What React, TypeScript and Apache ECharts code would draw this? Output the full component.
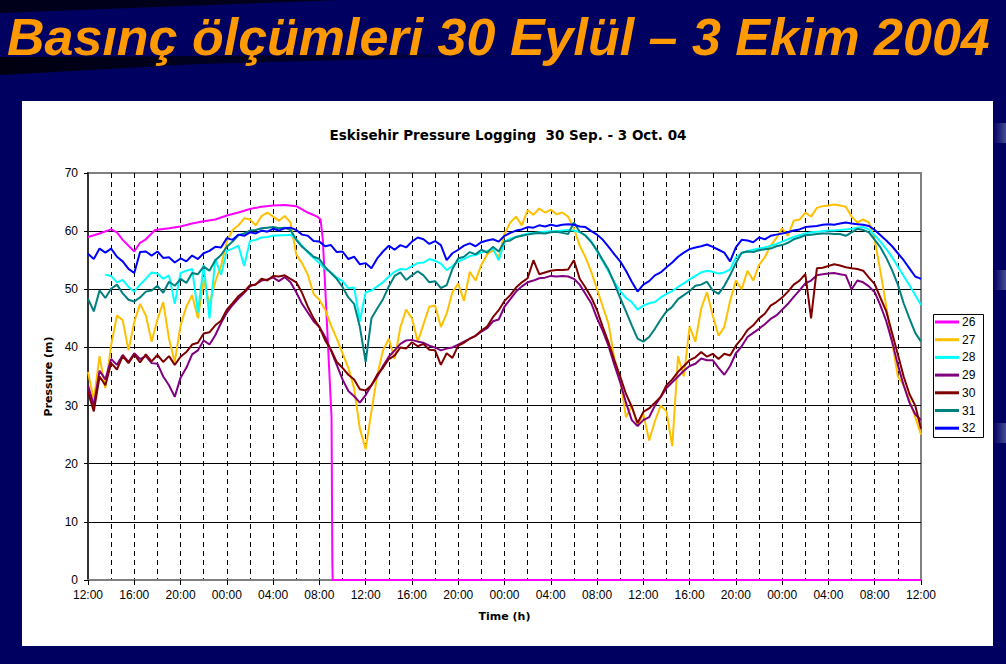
import React, { useEffect, useRef } from "react";
import * as echarts from "echarts";

// ---------- data ----------
const slideTitle = "Basınç ölçümleri 30 Eylül – 3 Ekim 2004";
const chartTitle = "Eskisehir Pressure Logging  30 Sep. - 3 Oct. 04";
const xAxisName = "Time (h)";
const yAxisName = "Pressure (m)";

// hours since 30 Sep 12:00, half-hour sampling
const sampleHours: number[] = Array.from({ length: 145 }, (_, i) => i * 0.5);

const xTickLabels = [
  "12:00", "16:00", "20:00", "00:00", "04:00", "08:00",
  "12:00", "16:00", "20:00", "00:00", "04:00", "08:00",
  "12:00", "16:00", "20:00", "00:00", "04:00", "08:00", "12:00",
];

const seriesNames = ["26", "27", "28", "29", "30", "31", "32"];
const seriesColors = ["#FF00FF", "#FFC000", "#00FFFF", "#800080", "#800000", "#008080", "#0000FF"];

// logger 26 (own time stamps: it fails shortly after 08:00 on 1 Oct)
const s26Hours = [0, 1, 2, 2.5, 3, 4, 4.5, 5, 5.8, 7, 8, 9, 10, 11, 12, 13, 14, 15, 16, 17, 18, 19, 19.8, 20.1, 20.3, 21.05, 21.12, 21.15, 72];
const s26Values = [59, 59.6, 60.3, 59.8, 58.5, 56.5, 58, 58.6, 60.2, 60.5, 60.8, 61.3, 61.7, 62, 62.7, 63.2, 63.8, 64.2, 64.4, 64.5, 64.3, 63.2, 62.5, 62, 58.5, 28, 3, 0, 0];

const s27 = [
  35.8, 31, 38.5, 33, 40.4, 45.5, 44.7, 39.5, 44.4, 47.5,
  45.5, 41, 44.8, 47.8, 41.5, 37.5, 43.8, 47, 49, 45,
  51.6, 47.5, 51.3, 54, 58.2, 60.2, 61, 62.2, 62, 61,
  62.6, 63.2, 62.5, 61.8, 62.6, 61.5, 56, 54.5, 52.5, 49.2,
  48.2, 46.5, 43.8, 41.5, 39, 36.5, 33, 26, 22.5, 29,
  35.2, 39.5, 41.5, 38, 43.5, 46.5, 45, 41, 44, 47,
  47.2, 43.5, 45.8, 49.5, 51, 48, 53, 51.5, 54.2, 56,
  56.8, 55.5, 59.5, 61.5, 62.5, 61, 63.6, 62.8, 63.9, 63.2,
  63.7, 62.9, 63.2, 62.5, 60.5, 57.5, 55.5, 53, 50, 47,
  44, 38, 34.5, 28, 30, 26.5, 28.6, 24, 27.3, 30,
  29, 23, 38.5, 35, 43.6, 41, 46.7, 49.5, 45.5, 42,
  43.5, 48, 51.5, 50, 53.2, 51.5, 54.2, 55.5, 57.5, 58.8,
  60.5, 59.2, 61.8, 62, 63.2, 62.5, 64, 64.3, 64.4, 64.6,
  64.4, 64.2, 62.5, 61.5, 62, 61.5, 58.5, 53, 47, 41,
  35, 33.5, 31, 28, 25,
];

const s28 = [
  null, null, null, 52.5, 52.3, 51.2, 51.6, 50.4, 49.6, 50.8,
  51.8, 52.9, 52.7, 51.8, 52.4, 47.5, 52.8, 53.2, 53.5, 46,
  54.2, 45, 55.2, 52.5, 56.6, 57, 57.5, 54, 58.3, 58.5,
  58.9, 59, 59.2, 59.3, 59.3, 59.4, 58.6, 57.5, 56.3, 55.4,
  54.5, 53.5, 52.9, 52, 51.4, 50.2, 50.3, 44.5, 49.5, 49.8,
  50.5, 51.2, 52.2, 53, 53.5, 53.4, 54, 54.5, 54.6, 55.2,
  54.9, 54.4, 53.3, 54, 54.8, 55.2, 55.7, 55.9, 56.3, 56.6,
  57, 55, 58.2, 58.7, 59, 59.3, 59.6, 59.7, 59.8, 59.9,
  60, 60, 60.1, 60.2, 60.1, 59.8, 59.3, 58.2, 56.5, 54.8,
  53, 51.2, 49.7, 48.5, 47.8, 46.5, 47.2, 47.6, 47.8, 48.6,
  49.2, 49.7, 50.4, 51, 51.7, 52.3, 52.9, 53.2, 53, 52.7,
  52.9, 53.4, 55.5, 56.2, 56.6, 56.8, 57, 57.2, 57.5, 57.8,
  58.2, 58.6, 59, 59.3, 59.6, 59.8, 59.9, 60, 60.1, 60.1,
  60.2, 60.3, 60.4, 60.6, 60.7, 60.3, 59.3, 58.2, 56.9, 55.5,
  53.9, 52.3, 50.7, 49, 47.3,
];

const s29 = [
  33.5, 30, 36, 34.5, 38, 37, 38.7, 37.5, 39, 38,
  38.5, 37.3, 37.2, 35, 33.5, 31.5, 34.8, 36.5, 38.8, 39.5,
  41.2, 40.5, 42.1, 44.2, 46, 47.3, 48.4, 49.4, 50.5, 50.9,
  51.5, 51.7, 52, 51.4, 52.1, 51.2, 49.5, 47.5, 46, 44.5,
  43.5, 41.8, 39.5, 37, 34.5, 32.5, 31.6, 30.5, 31.8, 33.5,
  35, 36.8, 38.4, 39.5, 40.6, 41.2, 41.3, 41, 40.8, 40.3,
  40, 39.5, 39.8, 40, 40.5, 41, 41.5, 42, 42.7, 43.3,
  44.5, 44.8, 47, 48.3, 49.6, 50.5, 51.2, 51.5, 51.9, 52,
  52.3, 52.2, 52.3, 52.2, 51.8, 50.8, 49.2, 47.6, 45, 42.8,
  40.2, 37, 34, 30.5, 27.5, 26.5, 27.5, 28, 30, 31.5,
  33, 34, 35, 36, 36.8, 37.2, 38.1, 37.8, 37.8, 36.5,
  35.3, 36.8, 39, 40.2, 41.8, 42.5, 43.2, 44, 44.9, 45.5,
  46.5, 47.5, 48.7, 49.8, 51, 51.5, 52.4, 52.6, 52.7, 52.8,
  52.6, 52.4, 50, 51.5, 51.2, 50.5, 49.5, 47.2, 44.5, 41,
  37, 33.5, 30.5, 28.5, 27.5,
];

const s30 = [
  32.4, 29, 35, 33.5, 37.3, 36.2, 38.5, 37.3, 38.8, 37.4,
  38.8, 37.6, 38.7, 37.5, 38.5, 37, 38.4, 39.2, 40.5, 40.8,
  42.4, 42.6, 43.8, 44.6, 46.5, 47.6, 48.8, 49.6, 50.7, 50.8,
  51.8, 51.5, 52.3, 52.2, 52.4, 51.8, 51.2, 49.4, 47, 45,
  43.5, 41.2, 39.6, 37.5, 36.5, 35.3, 34.5, 32.8, 32.6, 33.5,
  35.3, 36.5, 38, 38.6, 40, 39.8, 40.9, 40.2, 40.6, 39.6,
  39.5, 37, 39, 38.2, 40.3, 40.8, 41.5, 42, 42.9, 43.6,
  45.2, 46.4, 48, 49, 50.3, 51.2, 51.9, 55, 52.6, 52.9,
  53.2, 53.3, 53.3, 53.4, 55, 51.8, 50.3, 48.6, 46.4, 43.5,
  40.8, 37.8, 35, 32, 29.8, 27, 28.9, 29.5, 30.5, 31.5,
  33.5, 34.5, 35.8, 36.8, 37.8, 38.3, 39.2, 38.4, 38.9, 38,
  38.9, 38.6, 40.3, 41.5, 43, 43.8, 45, 45.8, 47.2, 47.8,
  48.6, 49.6, 50.8, 51.5, 52.6, 45, 53.6, 53.7, 54, 54.3,
  54.1, 53.8, 53.6, 53.5, 53.2, 52, 50.9, 48.5, 46.2, 42.5,
  38.8, 35, 32, 30, 26,
];

const s31 = [
  48.4, 46.2, 49.8, 48.5, 50.1, 50.8, 49.3, 48.2, 47.9, 48.6,
  49.6, 49.8, 50.6, 49.4, 51.3, 50.6, 51.8, 51.1, 52.8, 52.6,
  53.9, 53.2, 55, 55.9, 57.3, 58.2, 59.3, 59.6, 60.1, 60.2,
  60.5, 60.6, 60.7, 60.5, 60.6, 60.2, 58.5, 57.3, 56.5, 55.6,
  55.2, 53.8, 52.8, 51.8, 50.4, 48.6, 47.5, 43.5, 37.5, 45,
  46.7, 48.3, 50.5, 52.3, 52.9, 51.6, 52.4, 53.1, 52.4, 51.2,
  51.4, 50.2, 50.7, 53.5, 55.3, 55.6, 56.4, 56, 56.8, 56.3,
  57.3, 56.5, 58.2, 58.4, 59, 59.2, 59.4, 59.6, 59.7, 59.6,
  59.8, 59.9, 59.7, 59.5, 61.5, 59.9, 59.2, 58.1, 56.7, 55,
  53.3, 51, 48.5, 46.2, 43.8, 41.5, 41, 41.8, 43.2, 44.8,
  46.2, 47, 48.3, 49, 49.7, 50.6, 50.8, 51.3, 49.8, 49.2,
  50.6, 52.4, 54.5, 56.3, 56.5, 56.4, 56.7, 56.9, 57, 57.4,
  57.6, 58, 58.6, 58.9, 59.3, 59.4, 59.5, 59.6, 59.6, 59.5,
  59.5, 59.2, 59.8, 60.4, 60.2, 59.8, 58.5, 57.2, 55.4, 53.3,
  50.8, 47.6, 45, 42.5, 41,
];

const s32 = [
  56.1, 55.2, 57, 56.3, 57, 55.6, 54.8, 53.5, 52.8, 56.4,
  56.5, 55.8, 56.5, 55.4, 55.5, 54.6, 55.3, 54.8, 55.8, 55.2,
  56.2, 56.6, 57.3, 57.2, 58.8, 58.5, 59.4, 59.2, 59.8, 59.6,
  60.1, 59.9, 60.4, 60.1, 60.5, 60.6, 60.2, 59.4, 59.2, 58.3,
  58.2, 57.4, 57.6, 56.4, 56.5, 55.2, 55.6, 54.3, 54.5, 53.6,
  55.3, 56.5, 57.5, 56.8, 57.6, 57.2, 58.2, 58.9, 58.6, 57.8,
  58.3, 57.6, 55, 56.2, 56.8, 57.5, 57.9, 57.4, 58.1, 58.4,
  58.6, 58.2, 59.2, 59.7, 60.1, 60.3, 60.7, 60.6, 61, 60.8,
  61.1, 60.9, 61.1, 61.2, 61.1, 60.8, 60.7, 60, 59.4, 58.5,
  57.3, 56, 54.8, 53.2, 51.3, 49.6, 50.8, 51.4, 52.4, 52.9,
  53.8, 54.6, 55.6, 56.3, 56.9, 57.2, 57.4, 57.7, 57.3, 56.8,
  56.3, 54.8, 57.2, 58.5, 58.4, 58.1, 58.9, 58.6, 59.2, 59.4,
  59.6, 59.8, 60.1, 60.3, 60.7, 60.8, 60.9, 61.1, 61.2, 61.1,
  61.3, 61.5, 61.3, 61.2, 61.1, 60.9, 60.2, 59.3, 58.4, 57.4,
  56.2, 55, 53.6, 52.2, 51.8,
];

// ---------- chart ----------
const FONT = '"Liberation Sans", Arial, Helvetica, sans-serif';
const WIDE_FONT = '"DejaVu Sans", Verdana, sans-serif';

function pairs(xs: number[], ys: (number | null)[]) {
  return ys.map((v, i) => [xs[i], v]);
}

function buildOption(): echarts.EChartsOption {
  const halfHourSeries = [s27, s28, s29, s30, s31, s32];
  const series: any[] = [
    {
      name: seriesNames[0],
      type: "line",
      data: pairs(s26Hours, s26Values),
      showSymbol: false,
      lineStyle: { color: seriesColors[0], width: 2 },
      itemStyle: { color: seriesColors[0] },
    },
    ...halfHourSeries.map((vals, i) => ({
      name: seriesNames[i + 1],
      type: "line",
      data: pairs(sampleHours, vals),
      showSymbol: false,
      connectNulls: false,
      lineStyle: { color: seriesColors[i + 1], width: 2 },
      itemStyle: { color: seriesColors[i + 1] },
    })),
  ];

  const dashed = { color: "#000", width: 1, type: [5, 4] as any };

  const sideBlob = (y: number) => ({
    type: "rect",
    z: -20,
    shape: { x: 993, y, width: 13, height: 20 },
    style: {
      fill: new echarts.graphic.LinearGradient(0, 0, 1, 0, [
        { offset: 0, color: "rgba(70,80,150,0)" },
        { offset: 1, color: "rgba(80,90,160,0.85)" },
      ]),
    },
  });

  return {
    animation: false,
    backgroundColor: "#000060",
    title: {
      text: chartTitle,
      left: 503,
      top: 123,
      textAlign: "center",
      textStyle: { fontFamily: WIDE_FONT, fontSize: 13.5, fontWeight: "bold", color: "#000" },
    },
    legend: {
      orient: "vertical",
      left: 935,
      top: 315,
      padding: 0,
      itemWidth: 24,
      itemHeight: 3,
      itemGap: 3.7,
      icon: "rect",
      data: seriesNames,
      textStyle: { fontFamily: FONT, fontSize: 12, color: "#000", lineHeight: 14, padding: [0, 0, 0, -2] },
    },
    grid: {
      left: 88,
      top: 173,
      right: 85,
      bottom: 84,
      show: true,
      borderColor: "#808080",
      borderWidth: 2,
      backgroundColor: "transparent",
    },
    xAxis: {
      type: "value",
      min: 0,
      max: 72,
      interval: 4,
      name: xAxisName,
      nameLocation: "middle",
      nameGap: 31,
      nameTextStyle: { fontFamily: WIDE_FONT, fontSize: 11, fontWeight: "bold", color: "#000" },
      axisLine: { show: true, lineStyle: { color: "#808080", width: 2 } },
      axisTick: { show: true, length: 5, lineStyle: { color: "#000", width: 1 } },
      minorTick: { show: false, splitNumber: 2 },
      axisLabel: {
        fontFamily: FONT,
        fontSize: 12,
        color: "#000",
        margin: 9,
        formatter: (v: number) => xTickLabels[Math.round(v / 4)] ?? "",
      },
      splitLine: { show: true, showMinLine: false, showMaxLine: false, lineStyle: dashed },
      minorSplitLine: { show: true, lineStyle: dashed },
    },
    yAxis: {
      type: "value",
      min: 0,
      max: 70,
      interval: 10,
      name: yAxisName,
      nameLocation: "middle",
      nameGap: 33,
      nameRotate: 90,
      nameTextStyle: { fontFamily: WIDE_FONT, fontSize: 11, fontWeight: "bold", color: "#000" },
      axisLine: { show: true, lineStyle: { color: "#333", width: 2 } },
      axisTick: { show: true, length: 4, lineStyle: { color: "#000", width: 1 } },
      axisLabel: { fontFamily: FONT, fontSize: 12, color: "#000", margin: 10 },
      splitLine: { show: true, showMinLine: false, showMaxLine: false, lineStyle: { color: "#000", width: 1 } },
    },
    graphic: [
      {
        type: "polygon",
        z: -20,
        shape: { points: [[0, 0], [340, 0], [0, 13]] },
        style: { fill: "#00001a" },
      },
      {
        type: "polygon",
        z: -20,
        shape: { points: [[0, 57], [200, 56], [420, 54], [600, 55], [420, 58], [200, 64], [0, 75]] },
        style: {
          fill: new echarts.graphic.LinearGradient(0, 0, 1, 0, [
            { offset: 0, color: "rgba(0,0,16,1)" },
            { offset: 0.6, color: "rgba(0,0,30,0.8)" },
            { offset: 1, color: "rgba(0,0,96,0)" },
          ]),
        },
      },
      sideBlob(123),
      sideBlob(270),
      sideBlob(423),
      {
        type: "rect",
        z: -10,
        shape: { x: 22, y: 101, width: 971, height: 545 },
        style: { fill: "#FFFFFF" },
      },
      {
        type: "text",
        z: 10,
        x: 7,
        y: 37,
        style: {
          text: slideTitle,
          fill: "#FF9900",
          font: `italic bold 52px ${FONT}`,
          align: "left",
          verticalAlign: "middle",
        },
      },
      {
        type: "rect",
        z: 10,
        shape: { x: 933.5, y: 314.5, width: 50, height: 123 },
        style: { fill: "none", stroke: "#000", lineWidth: 1 },
      },
    ],
    series,
  } as any;
}

export default function App() {
  const ref = useRef<HTMLDivElement>(null);
  useEffect(() => {
    if (!ref.current) return;
    const chart = echarts.init(ref.current, null, { renderer: "svg" });
    chart.setOption(buildOption());
    return () => chart.dispose();
  }, []);
  return (
    <div
      ref={ref}
      style={{ position: "absolute", left: 0, top: 0, width: 1006, height: 664 }}
    />
  );
}
